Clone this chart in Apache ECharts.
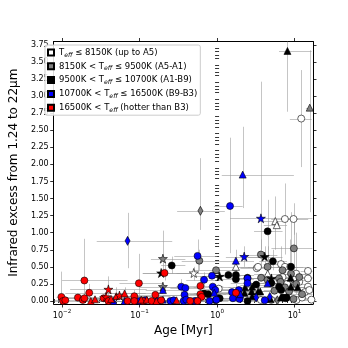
<!DOCTYPE html>
<html><head><meta charset="utf-8">
<script src="https://cdn.jsdelivr.net/npm/echarts@6/dist/echarts.min.js"></script>
<style>html,body{margin:0;padding:0;background:#fff}#c{width:348px;height:348px}</style>
</head><body><div id="c"></div>
<script>
// ---------- data (age in Myr, infrared excess) ----------
const xTickLabels = [-2, -1, 0, 1];           // exponents of 10
const yTickLabels = [0,0.25,0.5,0.75,1,1.25,1.5,1.75,2,2.25,2.5,2.75,3,3.25,3.5,3.75];

const whiteAge = [12.2,7.5,9.7,5.64,5.9,0.50,1.75,3.25,3.38,6.69,7.5,8.8,10.5,14.9,14.9,14.9,13.6,15.5,10.6,3.68,5.0,6.0,7.0,8.0,10.0,11.5,12.5,16.5,4.5,1.05];
const whiteExcess = [2.67,1.20,1.20,1.17,1.11,0.41,0.50,0.48,0.50,0.54,0.50,0.50,0.40,0.44,0.33,0.21,0.13,0.16,0.015,0.015,0.015,0.30,0.35,0.25,0.31,0.28,0.05,0.02,0.40,0.18];
const whiteMarker = ['o','o','o','^','^','*','^','o','o','o','o','o','o','o','o','o','o','o','o','o','o','o','o','o','o','o','o','o','^','o'];
const whiteAgeErr = [[8.7,16.6],[5,11],[7,15],[4,8],[4,8],[0.3,0.9],[1,3],[2,5],[2,5],[4,10],[5,11],[6,13],[7,16],[12,17],[12,17],[12,17],[10,17],null,[7,16],[2.5,6],[3,8],[4,9],[4.5,11],[5,12],[7,15],null,[9,17],null,[3,7],[0.7,1.6]];
const whiteExcessErr = [[1.96,3.38],[0.68,1.72],[0.97,1.43],[0.75,1.53],null,[0.3,0.5],[0.4,0.6],null,null,[0.3,0.8],null,[0.2,0.9],[0.1,1.0]];

const grayAge = [0.61,15.7,9.8,0.20,0.20,0.59,0.97,3.68,4.49,3.7,4.5,6.0,6.3,7.5,8.5,10.5,12.5,5.5,9.0,7.0,9.7,6.6,11.5];
const grayExcess = [1.32,2.83,0.77,0.62,0.21,0.59,0.45,0.68,0.50,0.34,0.31,0.01,0.33,0.20,0.14,0.25,0.10,0.15,0.40,0.45,0.03,0.28,0.35];
const grayMarker = ['d','^','o','*','*','o','o','o','o','o','o','d','o','o','o','o','o','o','o','o','o','o','o'];
const grayAgeErr = [[0.305,1.26],[14,17],[5.03,17],[0.14,0.39],[0.1,0.4],[0.35,1.0],[0.5,1.8],[2,6],[2.5,8],[2,6],null,[4,9],[4,10],[5,12],[5,14],[7,16],[8,17],[3,9],[6,14],null,[6,15],[4,10],[8,17]];
const grayExcessErr = [[1.04,2.09],[1.3,3.67],[0.3,1.25],[0.45,1.03],null,[0.45,0.75],null,[0.5,0.9],[0.3,0.8]];

const blackAge = [8.1,4.49,0.19,0.26,4.12,5.25,1.08,1.40,1.75,1.75,2.47,2.84,2.30,5.03,5.0,6.3,6.7,9.0,9.0,8.9,0.68,0.77,1.08,2.47,2.84,3.38,2.26,2.80,3.60,7.1,7.7,7.9,0.96,4.9,6.7,11.0,3.2];
const blackExcess = [3.66,1.02,0.41,0.52,0.65,0.58,0.36,0.38,0.38,0.32,0.34,0.21,0.20,0.33,0.26,0.21,0.16,0.21,0.50,0.34,0.11,0.10,0.04,0.00,0.07,0.14,0.12,0.14,0.14,0.05,0.04,0.05,0.01,0.03,0.05,0.20,0.24];
const blackMarker = ['^','o','*','o','*','o','*','o','o','o','o','^','^','*','o','o','o','^','o','^','o','o','o','o','^','^','^','^','^','o','o','o','o','^','^','^','o'];
const blackAgeErr = [[6.3,16.6],[3,7],[0.11,0.47],[0.19,0.39],[2.5,7],[3.5,8],[0.6,2],[0.8,2.5],[1,3],[1,3],[1.5,4],[1.6,5],[1.4,4],[3,8],[3,8],[4,10],[4,11],[6,14],[6,14],[6,13],[0.4,1.2],[0.45,1.3],[0.6,2],[1.5,4],[1.7,5],[2,6],[1.3,4],null,[2,6],[4.5,11],[5,12],[5,12],[0.5,1.8],[3,8],[4,10],[7,17],[2,5]];
const blackExcessErr = [[2.77,4.6],[0.55,1.48],null,[0.4,0.65],[0.5,0.8],[0.45,0.75],null,null,null,null,null,null,null,null,null,null,null,null,[0.2,1.3]];

const blueAge = [0.070,0.046,0.064,0.100,0.118,0.170,0.200,0.200,0.250,0.275,0.345,0.390,0.380,0.370,0.400,0.520,0.560,0.680,0.860,0.880,0.950,0.920,0.800,1.47,2.14,3.68,2.24,1.75,2.47,2.47,1.56,1.60,1.91,1.95,3.19,4.80,4.12,4.49,0.150,0.98,2.0];
const blueExcess = [0.88,0.00,0.00,0.00,0.01,0.00,0.02,0.16,0.00,0.01,0.21,0.19,0.09,0.00,0.02,0.00,0.66,0.31,0.37,0.21,0.16,0.12,0.00,1.39,1.85,1.21,0.65,0.59,0.33,0.26,0.13,0.04,0.16,0.03,0.05,0.06,0.01,0.26,0.00,0.02,0.10];
const blueMarker = ['d','^','^','o','o','o','^','^','o','o','o','o','o','o','o','o','o','o','o','o','o','^','o','o','^','*','*','^','o','o','o','o','o','o','d','d','o','^','^','o','^'];
const blueAgeErr = [[0.028,0.264],[0.03,0.08],[0.04,0.1],[0.06,0.2],null,[0.1,0.3],[0.1,0.4],[0.12,0.35],[0.15,0.5],null,[0.2,0.6],[0.25,0.7],[0.2,0.7],[0.2,0.6],null,[0.3,0.9],[0.28,1.0],[0.4,1.2],[0.5,1.5],[0.5,1.5],[0.6,1.6],[0.5,1.6],[0.5,1.4],[0.91,2.14],[1.15,9.8],[1.47,17],[1.3,4.5],[1.0,3.0],[1.5,4],[1.5,4],[0.9,2.8],[0.9,3],[1.1,3.2],[1.1,3.5],[2,5],[3,7],[2.5,7],[2.5,8],[0.09,0.3],[0.6,1.6],[1.2,3.5]];
const blueExcessErr = [[0.48,1.29],null,null,null,null,null,null,null,null,null,[0.1,0.32],null,null,null,null,null,[0.4,0.9],[0.2,0.42],null,null,null,null,null,[0.70,2.39],[1.36,2.55],[0.75,3.21],[0.5,0.8],[0.45,0.75]];

const redAge = [0.0098,0.0103,0.0110,0.0160,0.0185,0.0194,0.0194,0.0224,0.0235,0.0266,0.0343,0.0370,0.0396,0.0396,0.0430,0.0500,0.0550,0.0640,0.0700,0.0855,0.0855,0.098,0.110,0.105,0.124,0.143,0.160,0.165,0.210,0.190,0.61,0.61,0.63,0.56,0.45,1.75,0.300];
const redExcess = [0.06,0.00,0.01,0.05,0.015,0.04,0.30,0.12,0.00,0.025,0.04,0.06,0.17,0.00,0.03,0.07,0.08,0.11,0.00,0.07,0.00,0.26,0.00,0.02,0.02,0.00,0.09,0.00,0.41,0.01,0.22,0.10,0.06,0.00,0.00,0.12,0.01];
const redMarker = ['o','o','o','o','o','o','o','o','^','^','o','*','*','o','^','^','*','^','o','o','o','o','o','^','^','o','o','^','o','o','o','o','o','o','o','o','^'];
const redAgeErr = [[0.0085,0.015],[0.008,0.05],[0.008,0.03],[0.010,0.05],null,[0.012,0.08],[0.0100,0.070],[0.011,0.12],[0.015,0.04],[0.015,0.06],[0.02,0.08],[0.02,0.1],[0.0127,0.124],[0.02,0.1],[0.025,0.1],[0.03,0.12],[0.03,0.15],[0.035,0.2],[0.04,0.2],[0.05,0.25],[0.05,0.2],[0.055,0.20],[0.06,0.3],[0.06,0.25],[0.07,0.3],[0.08,0.4],[0.09,0.4],[0.1,0.4],[0.11,0.47],[0.1,0.5],[0.3,1.2],[0.35,1.0],[0.4,1.1],[0.3,1.0],[0.25,0.8],[1.0,3.0],null];
const redExcessErr = [[0,0.43],null,null,null,null,[0,0.12],[0,0.91],[0.02,0.25],null,null,null,null,[0.05,0.36],null,null,[0.02,0.2],null,[0.03,0.2],null,[0,0.16],null,[0,0.69],null,null,null,null,null,null,[0.3,0.55],null,[0.1,0.35],null,null,null,null,[0.02,0.25]];

// ---------- build ----------
const L = Math.log10;
const classes = [
  {name:'white', color:'#ffffff', age:whiteAge, ex:whiteExcess, mk:whiteMarker, ae:whiteAgeErr, ee:whiteExcessErr,
   label:'{n|T}{s|eff}{n| ≤ 8150K (up to A5)}'},
  {name:'gray', color:'#808080', age:grayAge, ex:grayExcess, mk:grayMarker, ae:grayAgeErr, ee:grayExcessErr,
   label:'{n|8150K < T}{s|eff}{n| ≤ 9500K (A5-A1)}'},
  {name:'black', color:'#000000', age:blackAge, ex:blackExcess, mk:blackMarker, ae:blackAgeErr, ee:blackExcessErr,
   label:'{n|9500K < T}{s|eff}{n| ≤ 10700K (A1-B9)}'},
  {name:'blue', color:'#0000ff', age:blueAge, ex:blueExcess, mk:blueMarker, ae:blueAgeErr, ee:blueExcessErr,
   label:'{n|10700K < T}{s|eff}{n| ≤ 16500K (B9-B3)}'},
  {name:'red', color:'#ff0000', age:redAge, ex:redExcess, mk:redMarker, ae:redAgeErr, ee:redExcessErr,
   label:'{n|16500K < T}{s|eff}{n| (hotter than B3)}'}
];
const STAR = 'path://M50,0 L61,35 L98,35 L68,57 L79,91 L50,70 L21,91 L32,57 L2,35 L39,35 Z';
const symMap = {o:['circle',7], '^':['triangle',7], '*':[STAR,9], d:['diamond',[5,9]]};

const errData = [];
const scatterSeries = classes.map(c => {
  const data = c.age.map((a, i) => {
    const y = c.ex[i];
    const ae = c.ae[i] || null, ee = c.ee[i] || null;
    errData.push([L(a), y, ae ? L(ae[0]) : L(a), ae ? L(ae[1]) : L(a), ee ? ee[0] : y, ee ? ee[1] : y]);
    const s = symMap[c.mk[i] || 'o'];
    return {value:[L(a), y], symbol:s[0], symbolSize:s[1]};
  });
  return {type:'scatter', name:c.name, data, z:3,
    itemStyle:{color:c.color, borderColor:'#000', borderWidth:0.6, opacity:1},
    emphasis:{disabled:true}};
});

const errSeries = {
  type:'custom', data:errData, z:1, clip:true, silent:true,
  renderItem(params, api){
    const x=api.value(0), y=api.value(1), xl=api.value(2), xh=api.value(3), yl=api.value(4), yh=api.value(5);
    const st = {stroke:'rgba(150,150,150,0.55)', lineWidth:1, fill:null};
    const ch = [];
    if (xl !== xh){ const a=api.coord([xl,y]), b=api.coord([xh,y]);
      ch.push({type:'line', shape:{x1:a[0],y1:Math.round(a[1])+0.5,x2:b[0],y2:Math.round(b[1])+0.5}, style:st}); }
    if (yl !== yh){ const a=api.coord([x,yl]), b=api.coord([x,yh]);
      ch.push({type:'line', shape:{x1:Math.round(a[0])+0.5,y1:a[1],x2:Math.round(b[0])+0.5,y2:b[1]}, style:st}); }
    return {type:'group', children:ch};
  }
};

const xMin = -2.108, xMax = 1.238, yMin = -0.044, yMax = 3.798;
const minorX = [];
for (let e=-3; e<=1; e++) for (let k=2; k<=9; k++){ const v=L(k*Math.pow(10,e)); if (v>xMin && v<xMax) minorX.push(v); }
const minorY = [];
for (let i=0; i<=76; i++){ const v=+(i*0.05).toFixed(2); if (Math.abs(v/0.25-Math.round(v/0.25))>1e-6 && v<yMax) minorY.push(v); }

const FONT = 'DejaVu Sans';
const axLine = {show:true, onZero:false, lineStyle:{color:'#000', width:1}};
function xAx(pos, major, main){
  return {type:'value', position:pos, min:xMin, max:xMax, gridIndex:0,
    axisLine: major ? axLine : {show:false},
    splitLine:{show:false},
    axisTick:{show:true, inside:false, length: major?3.5:2, customValues: major?xTickLabels:minorX, lineStyle:{color:'#000', width:0.8}},
    axisLabel: main ? {show:true, customValues:xTickLabels, margin:5, color:'#000', fontFamily:FONT,
      formatter: v => '{b|10}{s|' + (v<0?'\u2212':'') + Math.abs(Math.round(v)) + '}',
      rich:{b:{fontSize:8, fontFamily:FONT, color:'#000', lineHeight:11, verticalAlign:'bottom'},
            s:{fontSize:5.6, fontFamily:FONT, color:'#000', lineHeight:11, verticalAlign:'top', padding:[0,0,4,0]}}} : {show:false},
    name: main ? 'Age [Myr]' : '', nameLocation:'middle', nameGap:16,
    nameTextStyle:{fontSize:12, fontFamily:FONT, color:'#000'}};
}
function yAx(pos, major, main){
  return {type:'value', position:pos, min:yMin, max:yMax, gridIndex:0,
    axisLine: major ? axLine : {show:false},
    splitLine:{show:false},
    axisTick:{show:true, inside:false, length: major?3.5:2, customValues: major?yTickLabels:minorY, lineStyle:{color:'#000', width:0.8}},
    axisLabel: main ? {show:true, customValues:yTickLabels, margin:5, color:'#000', fontSize:8, fontFamily:FONT,
      formatter: v => v.toFixed(2)} : {show:false},
    name: main ? 'Infrared excess from 1.24 to 22\u03bcm' : '', nameLocation:'middle', nameGap:26,
    nameTextStyle:{fontSize:12, fontFamily:FONT, color:'#000'}};
}

const labelMap = {}; classes.forEach(c => labelMap[c.name] = c.label);
const option = {
  animation:false,
  grid:{left:43, right:35, top:41.5, bottom:44, containLabel:false},
  xAxis:[xAx('bottom',true,true), xAx('bottom',false,false), xAx('top',true,false), xAx('top',false,false)],
  yAxis:[yAx('left',true,true), yAx('left',false,false), yAx('right',true,false), yAx('right',false,false)],
  legend:{show:true, orient:'vertical', left:45, top:45, icon:'rect', itemWidth:6, itemHeight:6, itemGap:2.8,
    padding:[2,3,2,2], backgroundColor:'rgba(255,255,255,0.85)', borderColor:'#cccccc', borderWidth:1, borderRadius:2,
    selectedMode:false, data:classes.map(c=>c.name),
    formatter: n => labelMap[n],
    textStyle:{fontSize:8.5, fontFamily:FONT, color:'#000', lineHeight:11,
      rich:{n:{fontSize:8.5, fontFamily:FONT, color:'#000', lineHeight:11},
            s:{fontSize:6.2, fontFamily:FONT, fontStyle:'italic', color:'#000', lineHeight:7, verticalAlign:'bottom'}}}},
  series:[errSeries].concat(scatterSeries)
};
const chart = echarts.init(document.getElementById('c'), null, {renderer:'canvas'});
chart.setOption(option);
</script></body></html>
